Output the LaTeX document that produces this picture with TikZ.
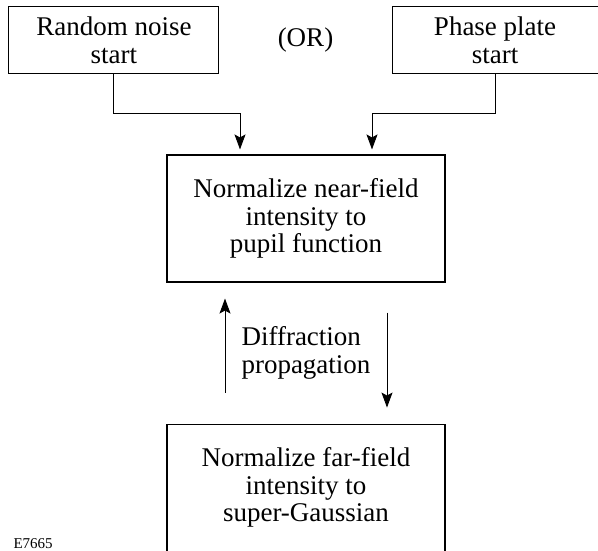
\documentclass[tikz,border=0pt]{standalone}
\usepackage{fontspec}
\setmainfont{Liberation Serif}
\usetikzlibrary{arrows.meta,positioning}

\begin{document}
\begin{tikzpicture}[
  x=1pt, y=-1pt,
  >={Stealth[length=15pt,width=11pt,inset=3pt]},
  every node/.style={font=\fontsize{27}{27.5}\selectfont},
  box/.style={draw, line width=1.1pt, align=center, inner sep=0pt},
  flow/.style={->, line width=0.9pt},
]
\useasboundingbox (0,0) rectangle (598,551);

\node[box, minimum width=278pt, minimum height=127pt] (near) at (306,218.5) {Normalize near-field\\intensity to\\pupil function};
\node[box, minimum width=278pt, minimum height=127pt, below=141pt of near] (far) {Normalize far-field\\intensity to\\super-Gaussian};

% two ways to start
\node[box, minimum width=210pt, minimum height=67pt, above left=80pt and -53pt of near] (noise) {Random noise\\start};
\node[box, minimum width=206pt, minimum height=67pt, above right=80pt and -54pt of near] (plate) {Phase plate\\start};
\path (noise) -- node (or) {(OR)} (plate);

\draw[flow, shorten >=5pt] (noise.south) -- ++(0,39) -| ([xshift=-66pt]near.north);
\draw[flow, shorten >=5pt] (plate.south) -- ++(0,39) -| ([xshift=66pt]near.north);

% loop between the two planes
\draw[flow] ([xshift=-81pt,yshift=31pt]far.north) -- ([xshift=-81pt,yshift=-16pt]near.south);
\draw[flow] ([xshift=81pt,yshift=-30pt]near.south) -- ([xshift=81pt,yshift=16pt]far.north);
\path (near) -- node[align=left] (diff) {Diffraction\\propagation} (far);

\node[font=\fontsize{15}{16}\selectfont, anchor=base west] (fig) at (10,548) {E7665};
\end{tikzpicture}
\end{document}
